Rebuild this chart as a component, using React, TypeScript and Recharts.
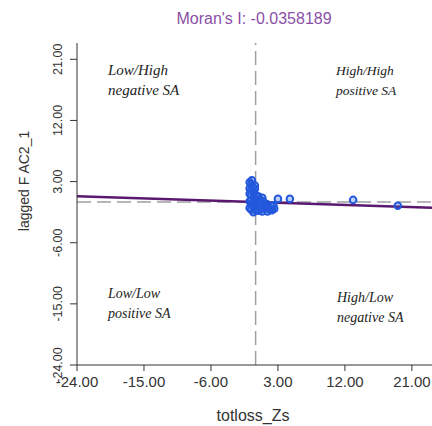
import React from 'react';
import { ScatterChart, Scatter, XAxis, YAxis, ReferenceLine } from 'recharts';

const W = 432;
const H = 426;

const xTicks = [-24, -15, -6, 3, 12, 21];
const yTicks = [-24, -15, -6, 3, 12, 21];

const pointsX = [
  -0.5, -0.6, -0.4, -0.6, -0.3, -0.6, -0.2, -0.6, -0.3, -0.6, -0.2, -0.6, -0.3, 0.0, 0.0, -0.1,
  -0.8, -0.8, -0.8, -0.8, -0.8, -0.1, 0.1, 0.1,
  0.4, 0.5, 0.4, 0.5, 0.4, 0.9, 1.0, 0.9, 1.1, 0.9, 0.7, 0.7, 1.2,
  1.5, 1.7, 1.6, 2.1, 2.2, 2.5, 1.9, 2.4,
  3.0, 4.6, 13.1, 19.1,
];
const pointsY = [
  3.2, 2.6, 2.2, 1.7, 1.4, 1.0, 0.7, 0.3, 0.0, -0.4, -0.7, -1.1, -1.5, -1.2, 0.2, 1.9,
  2.9, 2.0, 1.2, 0.1, -0.9, 2.4, -0.4, 0.9,
  0.8, 0.3, -0.2, -0.7, -1.3, 0.6, 0.1, -0.4, -0.9, -1.4, -0.1, -1.0, -0.5,
  -0.3, -0.8, -1.4, -0.6, -1.2, -1.0, -1.1, -0.5,
  0.45, 0.45, 0.3, -0.55,
];
const points = pointsX.map((x, i) => ({ x, y: pointsY[i] }));

const regression = [
  { x: -24, y: 0.85 },
  { x: 23.7, y: -0.85 },
];

const title = "Moran's I: -0.0358189";
const xLabel = 'totloss_Zs';
const yLabel = 'lagged F AC2_1';

const SANS = "'Liberation Sans', Arial, sans-serif";
const SERIF = "'Liberation Serif', 'Times New Roman', serif";

const XTick = (props: any) => {
  const { x, y, payload } = props;
  return (
    <text x={x} y={y} dy={14} textAnchor="middle" fontFamily={SANS} fontSize={15} fill="#333">
      {Number(payload.value).toFixed(2)}
    </text>
  );
};

const YTick = (props: any) => {
  const { x, y, payload } = props;
  const bx = x - 6;
  return (
    <text
      x={bx}
      y={y}
      textAnchor="middle"
      transform={`rotate(-90, ${bx}, ${y})`}
      fontFamily={SANS}
      fontSize={12.5}
      fill="#333"
    >
      {Number(payload.value).toFixed(2)}
    </text>
  );
};

export default function App() {
  return (
    <div style={{ position: 'absolute', left: 0, top: 0, width: W, height: H, background: '#fff' }}>
      <ScatterChart width={W} height={H} margin={{ top: 43, right: 0, bottom: 0, left: 0 }}>
        <XAxis
          type="number"
          dataKey="x"
          domain={[-24, 23.7]}
          ticks={xTicks}
          allowDataOverflow
          height={61}
          tickSize={6}
          stroke="#333"
          tick={<XTick />}
        />
        <YAxis
          type="number"
          dataKey="y"
          domain={[-24, 23.4]}
          ticks={yTicks}
          allowDataOverflow
          width={77}
          tickSize={7}
          stroke="#333"
          tick={<YTick />}
        />
        <ReferenceLine x={0} stroke="#a0a0a0" strokeWidth={1.5} strokeDasharray="14 6" />
        <ReferenceLine y={0} stroke="#a0a0a0" strokeWidth={1.5} strokeDasharray="14 6" />
        <Scatter
          data={points}
          isAnimationActive={false}
          shape={(p: any) => (
            <circle
              cx={p.cx}
              cy={p.cy}
              r={3.3}
              fill="#2a62e6"
              fillOpacity={0.3}
              stroke="#2358dc"
              strokeWidth={2}
            />
          )}
        />
        <ReferenceLine
          segment={regression}
          stroke="#5a1870"
          strokeWidth={2.5}
          ifOverflow="visible"
        />
      </ScatterChart>
      <svg
        width={W}
        height={H}
        style={{ position: 'absolute', left: 0, top: 0, pointerEvents: 'none' }}
      >
        <text x={254} y={24} textAnchor="middle" fontFamily={SANS} fontSize={16} fill="#8a4fa6">
          {title}
        </text>
        <text x={253} y={421} textAnchor="middle" fontFamily={SANS} fontSize={16} fill="#333">
          {xLabel}
        </text>
        <text
          x={29}
          y={181}
          textAnchor="middle"
          transform="rotate(-90, 29, 181)"
          fontFamily={SANS}
          fontSize={14}
          fill="#333"
        >
          {yLabel}
        </text>
        <g fontFamily={SERIF} fontStyle="italic" fill="#222">
          <text x={108} y={75} fontSize={15}>Low/High</text>
          <text x={108} y={95} fontSize={15}>negative SA</text>
          <text x={336} y={75} fontSize={13.5}>High/High</text>
          <text x={336} y={95} fontSize={13.5}>positive SA</text>
          <text x={108} y={298} fontSize={14}>Low/Low</text>
          <text x={108} y={318} fontSize={14}>positive SA</text>
          <text x={337} y={302} fontSize={14}>High/Low</text>
          <text x={337} y={322} fontSize={14}>negative SA</text>
        </g>
      </svg>
    </div>
  );
}
